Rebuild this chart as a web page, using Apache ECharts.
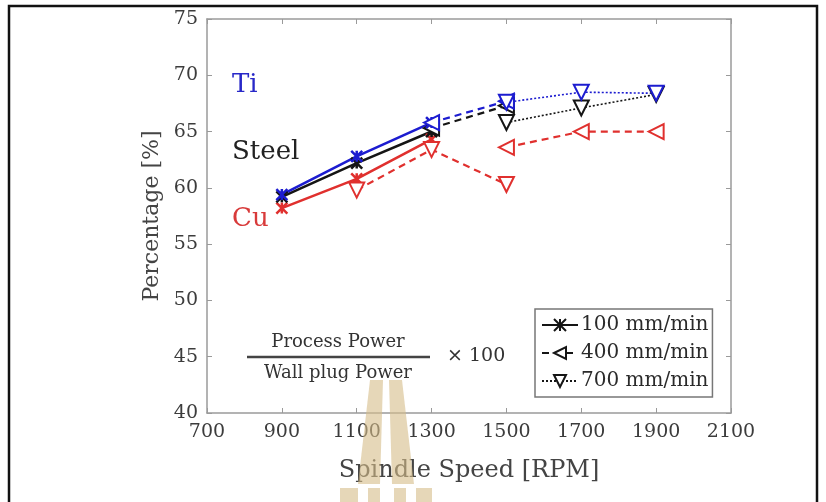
<!DOCTYPE html>
<html>
<head>
<meta charset="utf-8">
<script src="https://cdn.jsdelivr.net/npm/echarts@6/dist/echarts.min.js"></script>
<style>
html, body { margin: 0; padding: 0; background: #fff; }
#chart { width: 826px; height: 502px; }
</style>
</head>
<body>
<div id="chart"></div>
<script type="text/javascript">
// axis ticks
var xTicks = [700, 900, 1100, 1300, 1500, 1700, 1900, 2100];
var yTicks = [40, 45, 50, 55, 60, 65, 70, 75];

// feed 100 mm/min (solid, x marker)
var speed100 = [900, 1100, 1300];
var ti100    = [59.4, 62.8, 65.8];
var steel100 = [59.2, 62.2, 65.0];
var cu100    = [58.2, 60.8, 64.3];

// feed 400 mm/min (dashed, left triangle)
var speed400a = [1300, 1500];
var ti400     = [65.8, 67.7];
var steel400  = [65.3, 67.3];
var speed400b = [1500, 1700, 1900];
var cu400     = [63.6, 65.0, 65.0];

// feed 700 mm/min (dotted, down triangle)
var speed700a = [1500, 1700, 1900];
var ti700     = [67.6, 68.5, 68.4];
var steel700  = [65.8, 67.1, 68.3];
var speed700b = [1100, 1300, 1500];
var cu700     = [59.8, 63.4, 60.3];

var legendNames = ['100 mm/min', '400 mm/min', '700 mm/min'];

var BLUE = '#1c1cd0', BLACK = '#151515', RED = '#e0302e';
var SERIF = 'DejaVu Serif';
var CROSS = 'path://M0,0L10,10M10,0L0,10M5,0L5,10';
var WM = 'rgba(214,188,136,0.6)';

function pairs(xs, ys) {
	return xs.map(function (x, i) { return [x, ys[i]]; });
}

// 线型 + 标记
function mk(name, xs, ys, color, kind) {
	var s = {
		name: name,
		type: 'line',
		data: pairs(xs, ys),
		z: 3,
		lineStyle: { color: color, width: 2.2 },
		itemStyle: { color: '#fff', borderColor: color, borderWidth: 2 },
		emphasis: { disabled: true }
	};
	if (kind === 100) {
		s.symbol = CROSS;
		s.symbolSize = 11;
		s.itemStyle = { color: color, borderColor: color, borderWidth: 2.5 };
		s.lineStyle.width = 2.6;
	} else if (kind === 400) {
		s.symbol = 'triangle';
		s.symbolRotate = 90;
		s.symbolSize = 15;
		s.lineStyle.type = [7, 5];
	} else {
		s.symbol = 'triangle';
		s.symbolRotate = 180;
		s.symbolSize = 15;
		s.lineStyle.type = (color === RED) ? [7, 5] : [2, 2];
		s.lineStyle.width = (color === RED) ? 2.2 : 1.6;
	}
	return s;
}

var series = [
	mk('Cu 100', speed100, cu100, RED, 100),
	mk('Cu 700', speed700b, cu700, RED, 700),
	mk('Cu 400', speed400b, cu400, RED, 400),
	mk('Steel 100', speed100, steel100, BLACK, 100),
	mk('Steel 400', speed400a, steel400, BLACK, 400),
	mk('Steel 700', speed700a, steel700, BLACK, 700),
	mk('Ti 100', speed100, ti100, BLUE, 100),
	mk('Ti 400', speed400a, ti400, BLUE, 400),
	mk('Ti 700', speed700a, ti700, BLUE, 700)
];
// legend-only series (black)
[100, 400, 700].forEach(function (k, i) {
	var s = mk(legendNames[i], [], [], BLACK, k);
	s.lineStyle.color = BLACK;
	series.push(s);
});

var axisGray = '#9a9a9a';
var labelStyle = {
	fontFamily: SERIF, fontSize: 19, color: '#3c3c3c',
	formatter: function (v) { return String(v); }
};

var option = {
	animation: false,
	backgroundColor: '#fff',
	grid: { left: 207, right: 95, top: 19, bottom: 89 },
	legend: {
		data: legendNames,
		orient: 'vertical',
		left: 535,
		top: 309,
		padding: [5, 4, 5, 6],
		itemGap: 6,
		itemWidth: 36,
		itemHeight: 15,
		backgroundColor: '#fff',
		borderColor: '#777',
		borderWidth: 1.5,
		borderRadius: 0,
		selectedMode: false,
		textStyle: { fontFamily: SERIF, fontSize: 20, color: '#2a2a2a', lineHeight: 22, padding: [0, 0, 0, -2] }
	},
	xAxis: [{
		type: 'value',
		min: xTicks[0],
		max: xTicks[xTicks.length - 1],
		interval: 200,
		name: 'Spindle Speed [RPM]',
		nameLocation: 'middle',
		nameGap: 46,
		nameTextStyle: { fontFamily: SERIF, fontSize: 24, color: '#444' },
		axisLine: { lineStyle: { color: axisGray, width: 1.5 } },
		axisTick: { inside: true, length: 5, lineStyle: { color: axisGray } },
		axisLabel: Object.assign({ margin: 10 }, labelStyle),
		splitLine: { show: false }
	}, {
		type: 'value',
		position: 'top',
		min: xTicks[0],
		max: xTicks[xTicks.length - 1],
		interval: 200,
		axisLine: { lineStyle: { color: axisGray, width: 1.5 } },
		axisTick: { inside: true, length: 5, lineStyle: { color: axisGray } },
		axisLabel: { show: false },
		splitLine: { show: false }
	}],
	yAxis: [{
		type: 'value',
		min: yTicks[0],
		max: yTicks[yTicks.length - 1],
		interval: 5,
		name: 'Percentage [%]',
		nameLocation: 'middle',
		nameGap: 44,
		nameTextStyle: { fontFamily: SERIF, fontSize: 22, color: '#444' },
		axisLine: { show: true, lineStyle: { color: axisGray, width: 1.5 } },
		axisTick: { show: true, inside: true, length: 5, lineStyle: { color: axisGray } },
		axisLabel: Object.assign({ margin: 9 }, labelStyle),
		splitLine: { show: false }
	}, {
		type: 'value',
		position: 'right',
		min: yTicks[0],
		max: yTicks[yTicks.length - 1],
		interval: 5,
		axisLine: { show: true, lineStyle: { color: axisGray, width: 1.5 } },
		axisTick: { show: true, inside: true, length: 5, lineStyle: { color: axisGray } },
		axisLabel: { show: false },
		splitLine: { show: false }
	}],
	graphic: [
		// 外框
		{ type: 'rect', shape: { x: 9, y: 6, width: 808, height: 520 }, style: { fill: 'none', stroke: '#111', lineWidth: 2.5 }, z: 0 },
		// material labels
		{ type: 'text', left: 232, top: 72, style: { text: 'Ti', fontFamily: SERIF, fontSize: 26, fill: '#2828c8' }, z: 10 },
		{ type: 'text', left: 232, top: 139, style: { text: 'Steel', fontFamily: SERIF, fontSize: 26, fill: '#222' }, z: 10 },
		{ type: 'text', left: 232, top: 206, style: { text: 'Cu', fontFamily: SERIF, fontSize: 26, fill: '#d83a3a' }, z: 10 },
		// formula
		{ type: 'text', x: 338, y: 342, style: { text: 'Process Power', fontFamily: SERIF, fontSize: 18, fill: '#333', align: 'center', verticalAlign: 'middle' }, z: 10 },
		{ type: 'line', shape: { x1: 247, y1: 357, x2: 430, y2: 357 }, style: { stroke: '#444', lineWidth: 2.5 }, z: 10 },
		{ type: 'text', x: 338, y: 373, style: { text: 'Wall plug Power', fontFamily: SERIF, fontSize: 18, fill: '#333', align: 'center', verticalAlign: 'middle' }, z: 10 },
		{ type: 'text', x: 447, y: 356, style: { text: '× 100', fontFamily: SERIF, fontSize: 19, fill: '#333', verticalAlign: 'middle' }, z: 10 },
		// watermark
		{ type: 'polygon', shape: { points: [[370, 380], [383, 380], [380, 484], [358, 484]] }, style: { fill: WM }, z: 20 },
		{ type: 'polygon', shape: { points: [[389, 380], [402, 380], [414, 484], [392, 484]] }, style: { fill: WM }, z: 20 },
		{ type: 'rect', shape: { x: 340, y: 488, width: 18, height: 14 }, style: { fill: WM }, z: 20 },
		{ type: 'rect', shape: { x: 368, y: 488, width: 12, height: 14 }, style: { fill: WM }, z: 20 },
		{ type: 'rect', shape: { x: 394, y: 488, width: 12, height: 14 }, style: { fill: WM }, z: 20 },
		{ type: 'rect', shape: { x: 416, y: 488, width: 16, height: 14 }, style: { fill: WM }, z: 20 }
	],
	series: series
};

var myChart = echarts.init(document.getElementById('chart'));
myChart.setOption(option);
</script>
</body>
</html>
